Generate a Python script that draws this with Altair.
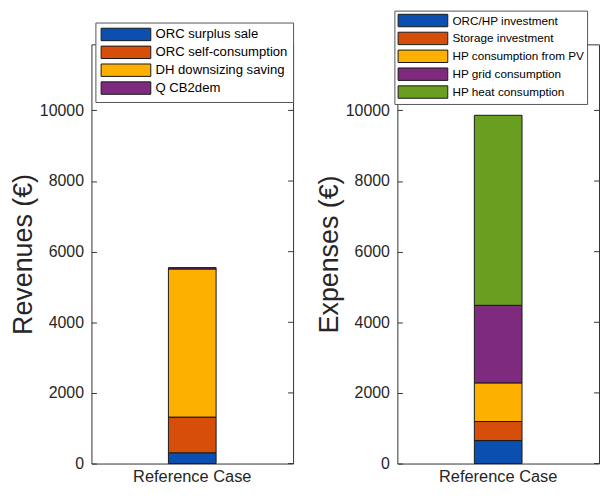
import altair as alt
import pandas as pd

FONT = "Liberation Sans"

case_label = "Reference Case"
y_ticks = [0, 2000, 4000, 6000, 8000, 10000]
y_max = 11870

rev_items = ["ORC surplus sale", "ORC self-consumption", "DH downsizing saving", "Q CB2dem"]
rev_values = [305, 1010, 4195, 38]
rev_colors = ["#0B50B0", "#D64E0A", "#FDB000", "#7E2A7E"]

exp_items = ["ORC/HP investment", "Storage investment", "HP consumption from PV",
             "HP grid consumption", "HP heat consumption"]
exp_values = [650, 540, 1094, 2196, 5382]
exp_colors = ["#0B50B0", "#D64E0A", "#FDB000", "#7E2A7E", "#6A9E20"]

W = 203
H = 422


def panel(items, values, colors, title, lx, ly, lab_size, lpad):
    df = pd.DataFrame({"case": case_label, "item": items, "value": values,
                       "order": list(range(len(items)))})
    ticks_df = pd.DataFrame({"value": y_ticks})
    y_axis = alt.Axis(values=y_ticks, title=title, grid=False, domain=False,
                      offset=-5, tickSize=5, tickColor="#333",
                      labelPadding=8, titlePadding=2, titleFontSize=27,
                      titleFontWeight="normal", format="d")
    y_scale = alt.Scale(domain=[0, y_max], nice=False, zero=True)
    bars = alt.Chart(df).mark_bar(size=48, stroke="#1a1a1a", strokeWidth=1).encode(
        x=alt.X("case:N", axis=alt.Axis(title=None, labelAngle=0, domain=False,
                                         offset=-5, tickSize=5, tickColor="#333",
                                         labelFontSize=16.5, labelPadding=5)),
        y=alt.Y("value:Q", stack="zero", scale=y_scale, axis=y_axis),
        color=alt.Color("item:N", scale=alt.Scale(domain=items, range=colors),
                        legend=alt.Legend(title=None, orient="none", legendX=lx, legendY=ly,
                                          direction="vertical",
                                          symbolType="M-4,-1H4V1H-4Z",
                                          symbolSize=156.25, symbolOffset=18.75,
                                          symbolStrokeColor="#1a1a1a",
                                          symbolStrokeWidth=1, symbolOpacity=1,
                                          labelFont=FONT, labelFontSize=lab_size,
                                          labelColor="#000", labelOffset=22.75,
                                          rowPadding=0, padding=lpad,
                                          fillColor="white", strokeColor="#555")),
        order=alt.Order("order:Q", sort="ascending"),
    )
    right_ticks = alt.Chart(ticks_df).mark_rule(color="#333", strokeWidth=1).encode(
        y=alt.Y("value:Q", scale=y_scale, axis=y_axis),
        x=alt.value(W - 5), x2=alt.value(W),
    )
    return alt.layer(bars, right_ticks).properties(width=W, height=H)


left = panel(rev_items, rev_values, rev_colors, "Revenues (€)", 4, -22, 13.2, 5)
right = panel(exp_items, exp_values, exp_colors, "Expenses (€)", -3, -34, 11.8, 3)

chart = alt.hconcat(left, right, spacing=21).resolve_scale(
    color="independent", y="independent"
).properties(
    padding={"left": 1, "top": 0, "right": 0, "bottom": 0}
).configure_view(
    stroke="#333", strokeWidth=1
).configure_axis(
    labelFont=FONT, titleFont=FONT, labelFontSize=16, labelColor="#262626",
    titleColor="#262626"
)

chart.save("out.html", embed_options={"renderer": "svg", "actions": False})
